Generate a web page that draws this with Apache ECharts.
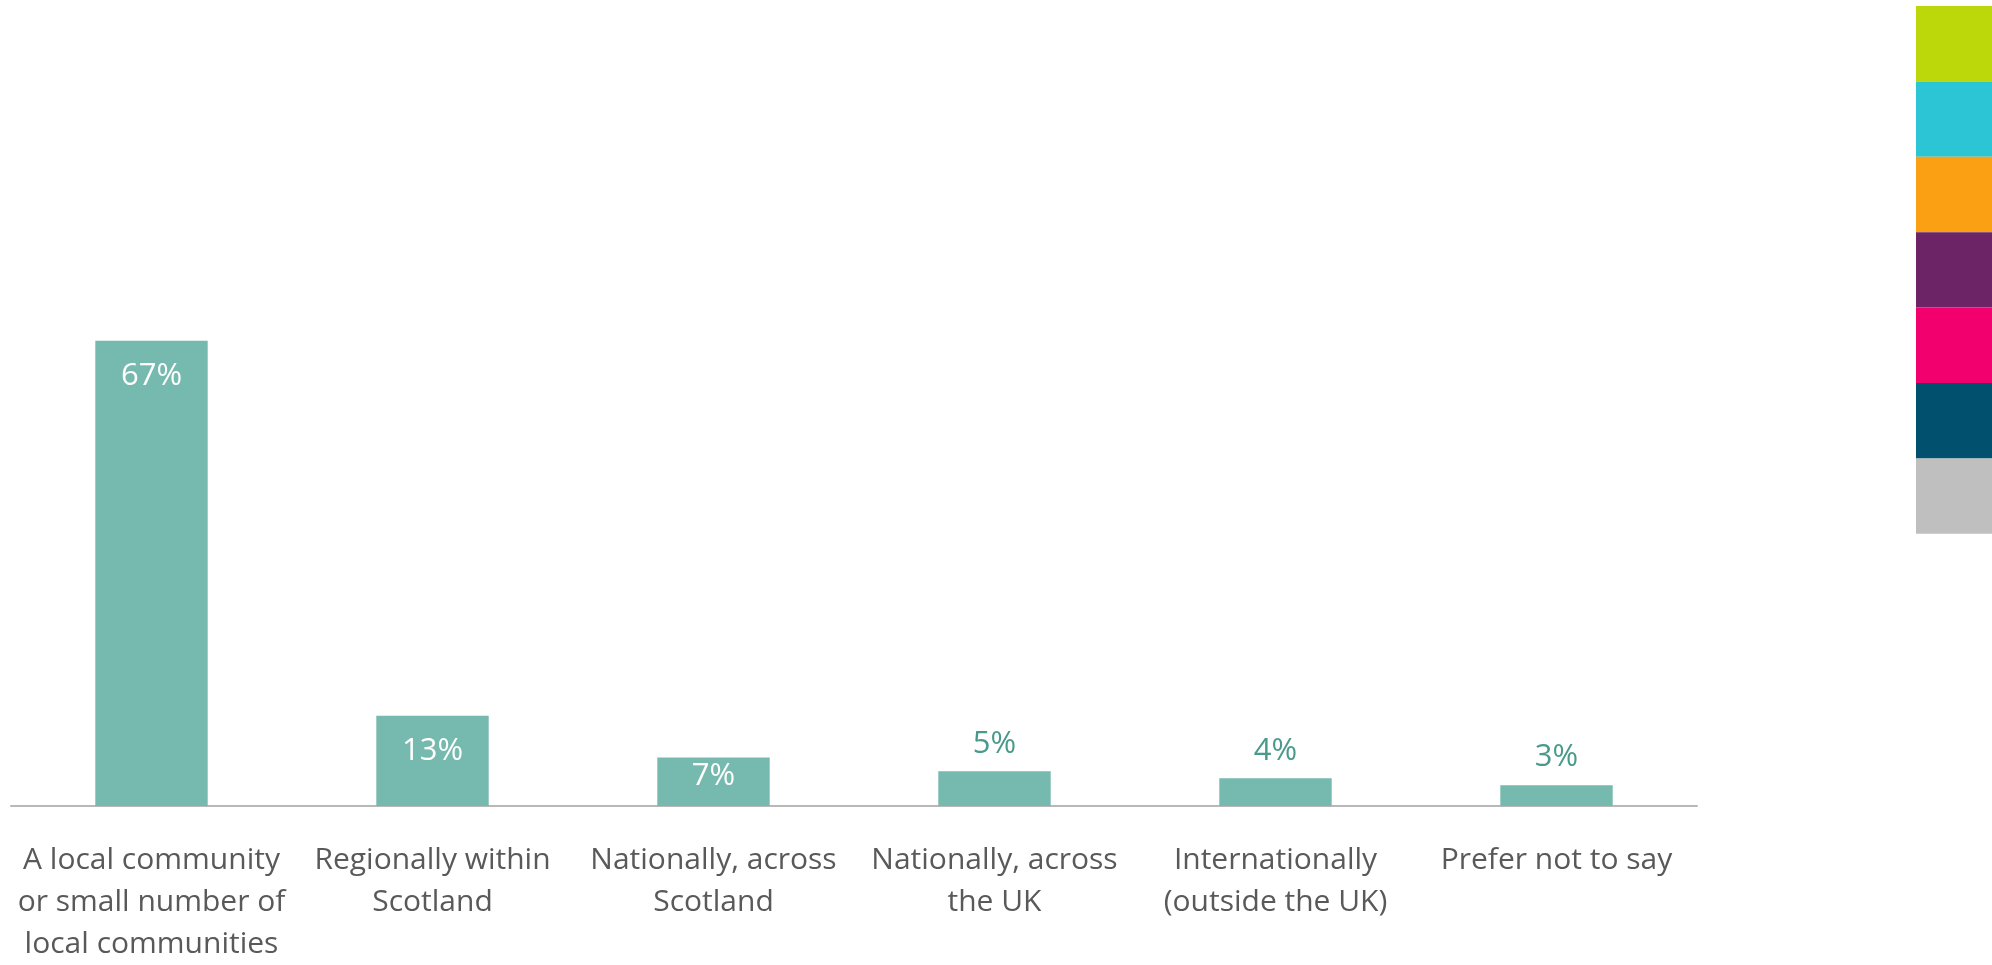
<!DOCTYPE html>
<html lang="en">
<head>
    <meta charset="UTF-8">
    <title>Reach of work</title>
    <script src="https://cdn.jsdelivr.net/npm/echarts@6/dist/echarts.min.js"></script>
    <style type="text/css">
        html, body { margin: 0; padding: 0; background: #fff; }
        #chart { width: 1992px; height: 965px; }
    </style>
</head>
<body>
<div id="chart"></div>
<script type="text/javascript">
    var categories = [
        'A local community\nor small number of\nlocal communities',
        'Regionally within\nScotland',
        'Nationally, across\nScotland',
        'Nationally, across\nthe UK',
        'Internationally\n(outside the UK)',
        'Prefer not to say'
    ];
    var values = [67, 13, 7, 5, 4, 3];
    // decorative colour strip on the right edge
    var stripColors = ['#bcd80a', '#2cc5d6', '#fba013', '#6d2466', '#f2006e', '#00506e', '#bfbfbf'];

    var chart = echarts.init(document.getElementById('chart'));

    var font = '"Open Sans", "Noto Sans", sans-serif';

    // label inside the bar for tall bars, above it for short ones
    var barData = values.map(function (v) {
        var lab;
        if (v >= 10) {
            lab = { position: 'insideTop', distance: 20, color: '#ffffff' };
        } else if (v >= 6) {
            lab = { position: 'inside', offset: [0, -6], color: '#ffffff' };
        } else {
            lab = { position: 'top', distance: 12, color: '#4a9a8c' };
        }
        return { value: v, label: lab };
    });

    var strip = stripColors.map(function (c, i) {
        return {
            type: 'rect',
            right: 0,
            top: 6 + i * 75.4,
            shape: { width: 76, height: 75.4 },
            style: { fill: c }
        };
    });

    var option = {
        animation: false,
        textStyle: { fontFamily: font },
        grid: { left: 11, right: 295, top: 320, bottom: 148 },
        xAxis: {
            type: 'category',
            data: categories,
            axisLine: { lineStyle: { color: '#b8b8b8', width: 2 } },
            axisTick: { show: false },
            axisLabel: {
                interval: 0,
                color: '#595959',
                fontSize: 30,
                lineHeight: 42,
                margin: 33,
                fontFamily: font
            }
        },
        yAxis: {
            type: 'value',
            min: 0,
            max: 70,
            show: false,
            splitLine: { show: false }
        },
        series: [{
            type: 'bar',
            data: barData,
            barWidth: '40%',
            itemStyle: { color: '#76b9ae' },
            label: {
                show: true,
                fontSize: 31,
                fontFamily: font,
                formatter: '{c}%'
            }
        }],
        graphic: strip
    };
    chart.setOption(option);
</script>
</body>
</html>
